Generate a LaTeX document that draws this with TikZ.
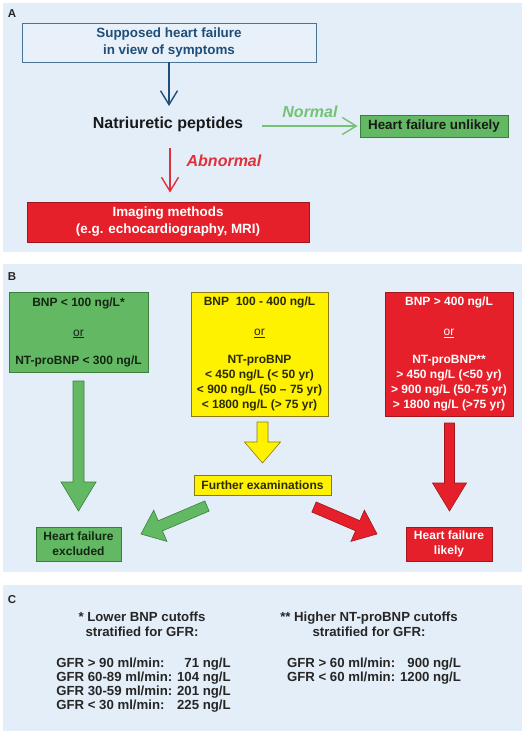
\documentclass[tikz,border=0pt]{standalone}
\usepackage{fontspec}
\setmainfont{Liberation Sans}
\usetikzlibrary{arrows.meta,calc}
\definecolor{panelbg}{HTML}{E4EEF8}
\definecolor{topfill}{HTML}{E8F1FA}
\definecolor{boxblue}{HTML}{4A7394}
\definecolor{darkblue}{HTML}{1F4E79}
\definecolor{gfill}{HTML}{63B963}
\definecolor{gborder}{HTML}{3C7F3C}
\definecolor{gtext}{HTML}{132613}
\definecolor{lgreen}{HTML}{74C274}
\definecolor{rfill}{HTML}{E5202A}
\definecolor{rborder}{HTML}{A0161C}
\definecolor{rtext}{HTML}{E0313A}
\definecolor{yfill}{HTML}{FFF200}
\definecolor{yborder}{HTML}{8A7A10}
\definecolor{ytext}{HTML}{2A2A05}
\newcommand\blockarr[6]{%
  \path ($(#3)!#6!(#2)$) coordinate (ba-h);
  \draw[#1] ($(#2)!#4!90:(#3)$) -- ($(ba-h)!#4!-90:(#2)$) -- ($(ba-h)!#5!-90:(#2)$)
    -- (#3) -- ($(ba-h)!#5!90:(#2)$) -- ($(ba-h)!#4!90:(#2)$) -- ($(#2)!#4!-90:(#3)$) -- cycle;}
\tikzset{
  panel/.style={fill=panelbg, draw=none},
  plabel/.style={font=\bfseries\fontsize{11.5}{13}\selectfont, text=black!85},
  fa/.style={font=\bfseries\fontsize{13.4}{17}\selectfont},
  fb/.style={font=\bfseries\fontsize{12}{15}\selectfont},
  fc/.style={font=\bfseries\fontsize{13.2}{14}\selectfont},
  box/.style={inner sep=0pt, align=center, line width=0.8pt},
  topbox/.style={box, draw=boxblue, fill=topfill, text=darkblue},
  gbox/.style={box, draw=gborder, fill=gfill, text=gtext},
  rbox/.style={box, draw=rborder, fill=rfill, text=white},
  ybox/.style={box, draw=yborder, fill=yfill, text=ytext},
  linearr/.style={line width=1.4pt, -{Straight Barb[length=14pt,width=17pt]}},
  garr/.style={fill=gfill, draw=gborder, line width=0.6pt},
  rarr/.style={fill=rfill, draw=rborder, line width=0.6pt},
  yarr/.style={fill=yfill, draw=yborder, line width=0.6pt},
}
\begin{document}
\begin{tikzpicture}[x=1pt,y=-1pt]
\useasboundingbox (0,0) rectangle (529,731);
\fill[white] (0,0) rectangle (529,731);
% panels
\path[panel] (3,3) rectangle (522,252);
\path[panel] (3,264) rectangle (522,572);
\path[panel] (3,585) rectangle (522,731);
\node[plabel] (la) at (12,14) {A};
\node[plabel] (lb) at (12,277) {B};
\node[plabel] (lc) at (12,600) {C};
% ---------- panel A
\node[topbox, fa, minimum width=294pt, minimum height=39pt] (sym) at (169,42.5)
  {Supposed heart failure\\in view of symptoms};
\node[font=\bfseries\fontsize{16}{19}\selectfont, text=black!90] (np) at (168,124) {Natriuretic peptides};
\node[gbox, fa, text=black!90, minimum width=148pt, minimum height=22pt] (unl) at (434,126) {Heart failure unlikely};
\node[rbox, fa, minimum width=282pt, minimum height=40pt] (img) at (168,222)
  {Imaging methods\\(e.g. echocardiography, MRI)};
\draw[linearr, darkblue, shorten >=7pt] (sym.south) -- (sym.south |- np.north);
\draw[linearr, lgreen, shorten <=15pt, shorten >=2pt] (np.east |- unl.west) -- (unl.west);
\draw[linearr, rtext, shorten <=13pt, shorten >=9pt] ([xshift=2pt]np.south) -- ([xshift=2pt]img.north);
\node[font=\bfseries\itshape\fontsize{16}{18}\selectfont, text=lgreen] (nl) at (310,112) {Normal};
\node[font=\bfseries\itshape\fontsize{16}{18}\selectfont, text=rtext] (al) at (224,161) {Abnormal};
% ---------- panel B
\node[gbox, fb, minimum width=139pt, minimum height=80pt] (g1) at (78.5,332)
  {BNP < 100 ng/L*\\[15pt]\underline{\mdseries or}\\[13pt]NT-proBNP < 300 ng/L};
\node[ybox, fb, minimum width=137pt, minimum height=124pt] (y1) at (259.5,354)
  {BNP\ \ 100 - 400 ng/L\\[15pt]\underline{\mdseries or}\\[13pt]NT-proBNP\\< 450 ng/L (< 50 yr)\\< 900 ng/L (50 – 75 yr)\\< 1800 ng/L (> 75 yr)};
\node[rbox, fb, minimum width=128pt, minimum height=124pt] (r1) at (449,354)
  {BNP > 400 ng/L\\[15pt]\underline{\mdseries or}\\[13pt]NT-proBNP**\\> 450 ng/L (<50 yr)\\> 900 ng/L (50-75 yr)\\> 1800 ng/L (>75 yr)};
\node[ybox, fb, minimum width=137pt, minimum height=20pt] (fe) at (262.5,485) {Further examinations};
\node[gbox, fb, minimum width=85pt, minimum height=34pt] (hfe) at (78.5,544) {Heart failure\\excluded};
\node[rbox, fb, minimum width=86pt, minimum height=34pt] (hfl) at (449,544) {Heart failure\\likely};
\coordinate (ga1) at (78.5,381);  \coordinate (ga2) at (78.5,511);
\coordinate (ya1) at (262.5,422); \coordinate (ya2) at (262.5,463);
\coordinate (ra1) at (449.5,423); \coordinate (ra2) at (449.5,511);
\coordinate (gd1) at (207,506);   \coordinate (gd2) at (141,534);
\coordinate (rd1) at (314,507);   \coordinate (rd2) at (377,534);
\blockarr{garr}{ga1}{ga2}{5.5pt}{17.5pt}{29pt}
\blockarr{yarr}{ya1}{ya2}{5.5pt}{18pt}{21pt}
\blockarr{rarr}{ra1}{ra2}{5pt}{17pt}{28pt}
\blockarr{garr}{gd1}{gd2}{5.5pt}{17pt}{21pt}
\blockarr{rarr}{rd1}{rd2}{5.5pt}{17pt}{21pt}
% ---------- panel C
\node[fc, text=black!85, align=center, font=\bfseries\fontsize{13.2}{15}\selectfont] (c1h) at (142,624.5)
  {* Lower BNP cutoffs\\stratified for GFR:};
\node[fc, text=black!85, inner sep=0pt] (c1t) at (143.5,686)
  {\begin{tabular}{@{}l@{ }r@{}}GFR > 90 ml/min: & 71 ng/L\\GFR 60-89 ml/min: & 104 ng/L\\GFR 30-59 ml/min: & 201 ng/L\\GFR < 30 ml/min: & 225 ng/L\end{tabular}};
\node[fc, text=black!85, align=center, font=\bfseries\fontsize{13.2}{15}\selectfont] (c2h) at (369,624.5)
  {** Higher NT-proBNP cutoffs\\stratified for GFR:};
\node[fc, text=black!85, inner sep=0pt] (c2t) at (374,672)
  {\begin{tabular}{@{}l@{ }r@{}}GFR > 60 ml/min: & 900 ng/L\\GFR < 60 ml/min: & 1200 ng/L\end{tabular}};
\end{tikzpicture}
\end{document}
